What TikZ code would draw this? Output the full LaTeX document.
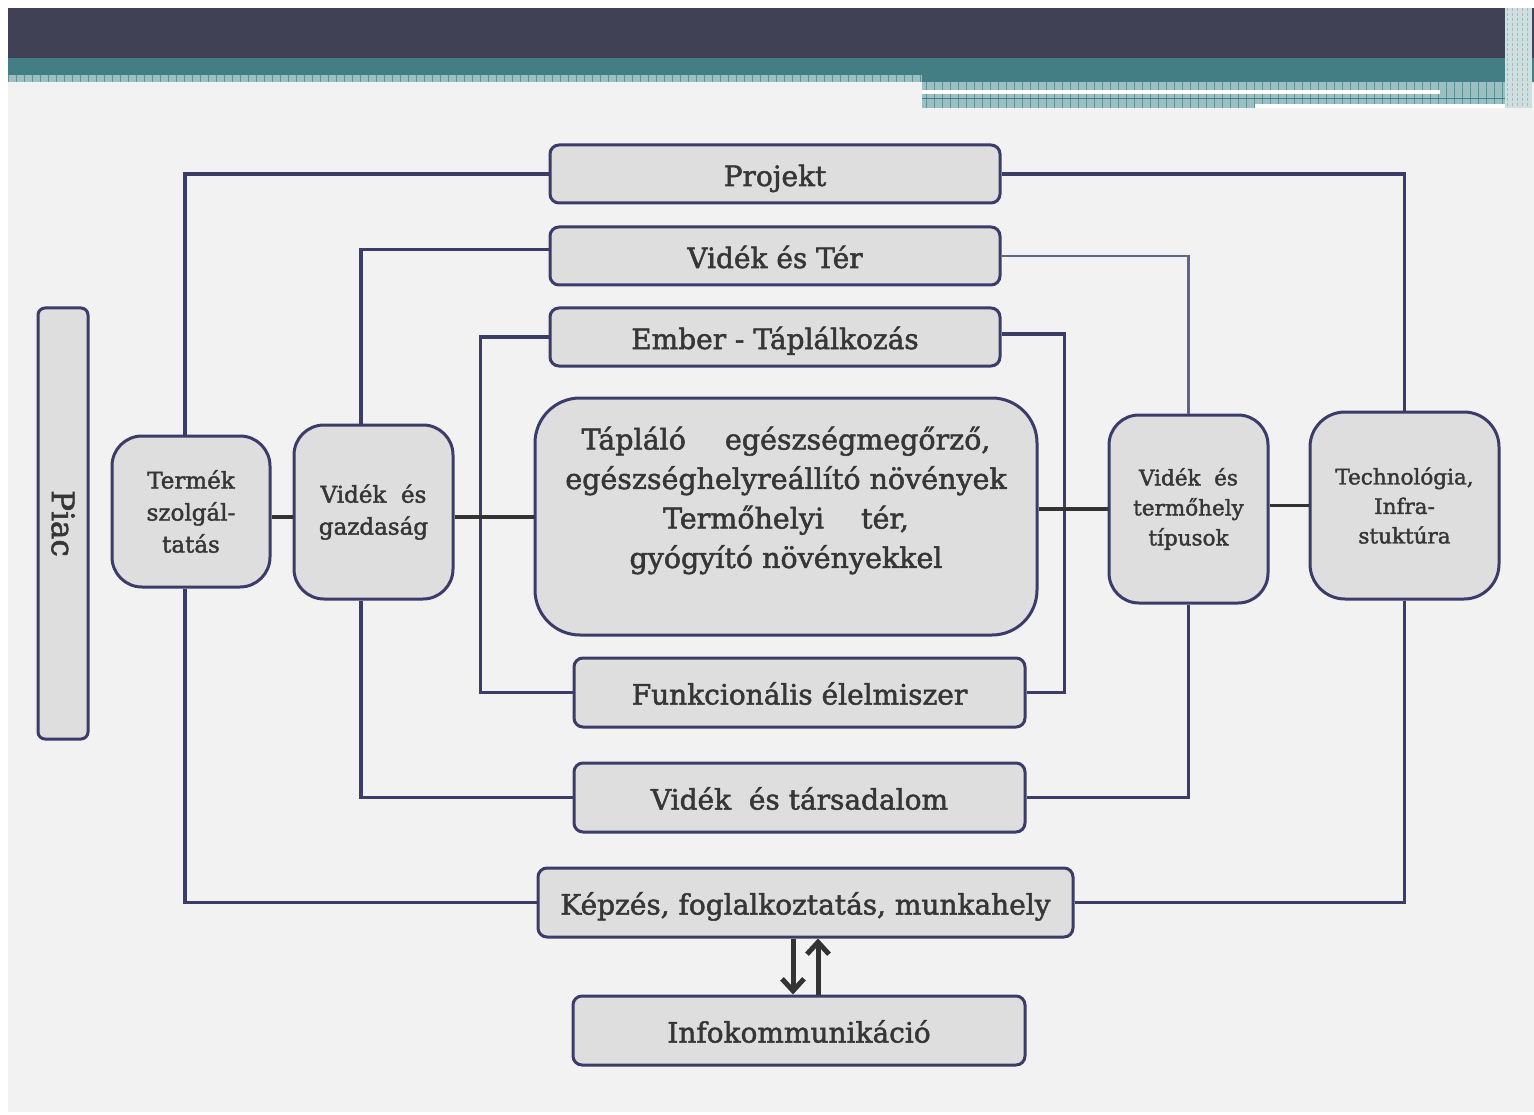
\documentclass[tikz,border=0pt]{standalone}
\usepackage{fontspec}
\setmainfont{DejaVu Serif}
\newfontfamily\boxfont{DejaVu Serif}[FakeBold=1.8]
\usetikzlibrary{arrows.meta}

\definecolor{bgGray}{HTML}{F2F2F2}
\definecolor{boxFill}{HTML}{DEDEDE}
\definecolor{boxLine}{HTML}{3B3C6A}
\definecolor{txtGray}{HTML}{363636}
\definecolor{linkDark}{HTML}{333333}
\definecolor{headDark}{HTML}{414155}
\definecolor{headTeal}{HTML}{437E85}
\definecolor{headLight}{HTML}{9DBFC1}

\tikzset{
	barbox/.style={draw=boxLine, line width=3pt, fill=boxFill, rounded corners=9pt, inner sep=0pt, text=txtGray, text height=26pt, text depth=2pt, font=\boxfont\fontsize{28}{32}\selectfont},
	sidebox/.style={draw=boxLine, line width=3pt, fill=boxFill, rounded corners=30pt, inner sep=0pt, text=txtGray, align=center, font=\boxfont\fontsize{23}{32}\selectfont},
	link/.style={draw=boxLine, line width=3.5pt},
	thinlink/.style={draw=boxLine!80!white, line width=2.5pt},
	darklink/.style={draw=linkDark, line width=3.5pt},
	arrowlink/.style={draw=linkDark, line width=5pt, -{Straight Barb[length=12pt,width=22pt]}}
}

\begin{document}
\begin{tikzpicture}[x=1pt, y=-1pt]
	\useasboundingbox (0,0) rectangle (1534,1115);
	\fill[white] (0,0) rectangle (1534,1115);
	\fill[bgGray] (8,8) rectangle (1534,1112);
	
	\fill[headDark] (8,8) rectangle (1534,58);
	\fill[headTeal] (8,58) rectangle (922,75);
	\fill[headTeal] (922,58) rectangle (1534,82);
	\fill[headLight] (8,75) rectangle (922,82);
	\fill[headLight] (922,82) rectangle (1520,108);
	\foreach \x in {8,16,...,922}
	{
		\draw[headTeal!70!headLight, line width=0.6pt] (\x,75) -- (\x,82);
	}
	\foreach \x in {926,934,...,1518}
	{
		\draw[headTeal!70!headLight, line width=0.6pt] (\x,82) -- (\x,108);
	}
	\draw[headTeal, line width=0.8pt] (922,98) -- (1520,98);
	\fill[white] (922,90) rectangle (1440,94);
	\fill[white] (1255,104) rectangle (1520,108);
	\fill[headLight!50!white] (1505,8) rectangle (1532,108);
	\foreach \x in {1507,1512,...,1530}
	{
		\draw[headDark!40!white, line width=0.8pt, dash pattern=on 3pt off 2pt] (\x,8) -- (\x,108);
	}
	
	\node[barbox, minimum width=450pt, minimum height=58pt] (projekt) at (775,174) {Projekt};
	\node[barbox, minimum width=450pt, minimum height=58pt] (videkter) at (775,256) {Vidék és Tér};
	\node[barbox, minimum width=450pt, minimum height=58pt] (ember) at (775,337) {Ember - Táplálkozás};
	\node[barbox, minimum width=451pt, minimum height=69pt] (funk) at (799.5,692.5) {Funkcionális élelmiszer};
	\node[barbox, minimum width=451pt, minimum height=69pt] (tarsadalom) at (799.5,797.5) {Vidék~ és társadalom};
	\node[barbox, minimum width=535pt, minimum height=69pt] (kepzes) at (805.5,902.5) {Képzés, foglalkoztatás, munkahely};
	\node[barbox, minimum width=452pt, minimum height=69pt] (info) at (799,1030.5) {Infokommunikáció};
	
	\node[barbox, rounded corners=45pt, minimum width=502pt, minimum height=237pt,
		label={[text=txtGray, align=center, font=\boxfont\fontsize{28.5}{39.5}\selectfont, yshift=16pt]center:Tápláló\hspace{30pt} egészségmegőrző,\\egészséghelyreállító növények\\Termőhelyi\hspace{28pt} tér,\\gyógyító növényekkel}] (central) at (786,516.5) {};
	
	\node[barbox, rounded corners=7pt, minimum width=50pt, minimum height=431pt] (piac) at (63,523.5) {};
	\node[text=txtGray, rotate=-90, font=\boxfont\fontsize{31}{34}\selectfont] at (piac.center) {Piac};
	
	\node[sidebox, minimum width=158pt, minimum height=151pt] (termek) at (191,511.5) {Termék\\szolgál-\\tatás};
	\node[sidebox, minimum width=159pt, minimum height=174pt] (gazdasag) at (373.5,512) {Vidék~ és\\gazdaság};
	\node[sidebox, font=\boxfont\fontsize{21.5}{30}\selectfont, minimum width=159pt, minimum height=188pt] (termohely) at (1188.5,509) {Vidék~ és\\termőhely\\típusok};
	\node[sidebox, rounded corners=35pt, font=\boxfont\fontsize{21.5}{29.5}\selectfont, minimum width=189pt, minimum height=187pt] (tech) at (1404.5,505.5) {Technológia,\\Infra-\\stuktúra};
	
	\draw[link] (projekt.west) -| ([xshift=-6pt]termek.north);
	\draw[link] (projekt.east) -| (tech.north);
	\draw[link] ([yshift=6.5pt]videkter.west) -| ([xshift=-12.5pt]gazdasag.north);
	\draw[thinlink] (videkter.east) -| (termohely.north);
	\draw[link] (ember.west) -- ++(-68,0) |- (funk.west);
	\draw[link] ([yshift=3pt]ember.east) -- ++(63,0) |- (funk.east);
	\draw[link] (tarsadalom.west) -| ([xshift=-12.5pt]gazdasag.south);
	\draw[link] (tarsadalom.east) -| (termohely.south);
	\draw[link] (kepzes.west) -| ([xshift=-6pt]termek.south);
	\draw[link] (kepzes.east) -| (tech.south);
	
	\draw[darklink] ([yshift=-5pt]gazdasag.west) -- ([yshift=-5pt]gazdasag.west -| termek.east);
	\draw[darklink] ([yshift=-5pt]gazdasag.east) -- ([yshift=-5pt]gazdasag.east -| central.west);
	\draw[darklink] (termohely.west) -- (termohely.west -| central.east);
	\draw[darklink] (tech.west) -- (tech.west -| termohely.east);
	
	\draw[arrowlink] ([xshift=-12.5pt]kepzes.south) -- ([xshift=-12.5pt]kepzes.south |- info.north);
	\draw[arrowlink] ([xshift=12.5pt]kepzes.south |- info.north) -- ([xshift=12.5pt]kepzes.south);
\end{tikzpicture}
\end{document}
